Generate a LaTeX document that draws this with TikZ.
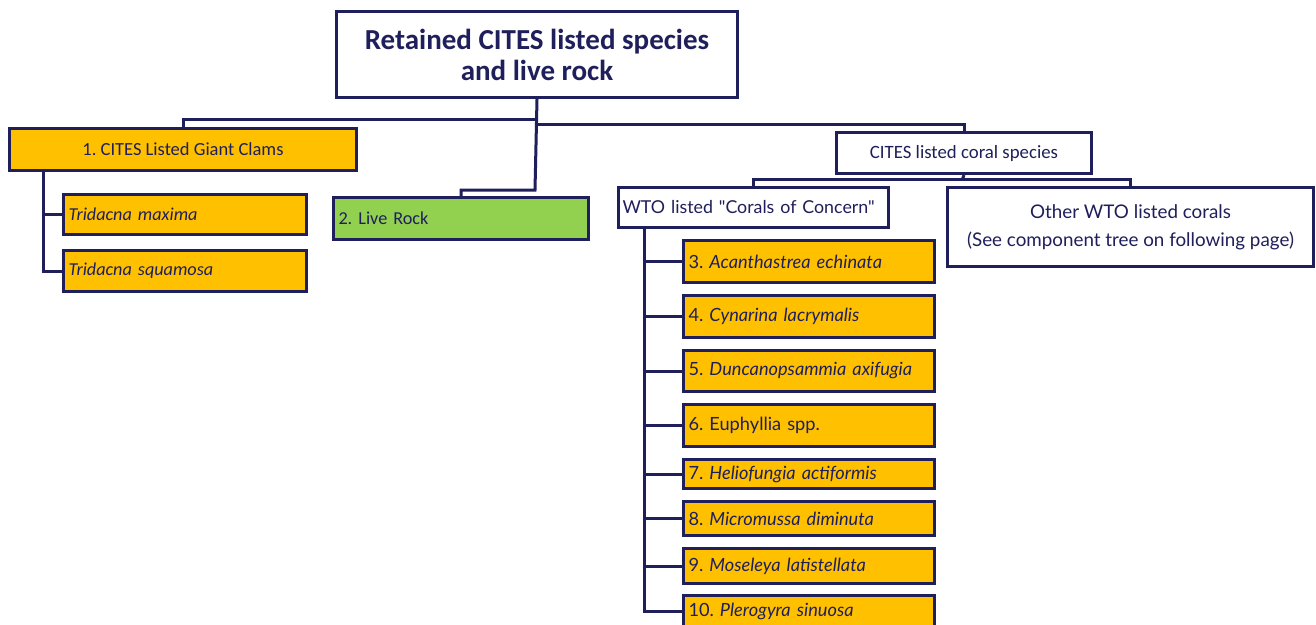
\documentclass[tikz,border=0pt]{standalone}
\usepackage{fontspec}
\setmainfont{Carlito}
\newfontfamily\lato{Lato}
\definecolor{navy}{HTML}{1F1F5C}
\definecolor{gold}{HTML}{FFC000}
\definecolor{lgreen}{HTML}{92D050}
\frenchspacing
\tikzset{
  bx/.style={draw=navy, line width=3pt, text=navy, inner xsep=5pt, inner ysep=0pt, anchor=north west},
  goldbx/.style={bx, fill=gold},
  greenbx/.style={bx, fill=lgreen},
  whitebx/.style={bx, fill=white},
  conn/.style={draw=navy, line width=3pt, line join=miter},
}
\begin{document}
\begin{tikzpicture}[x=1pt,y=-1pt]
\clip (0,0) rectangle (1316,624);
\fill[white] (0,0) rectangle (1316,624);
% root
\node[whitebx, minimum width=401pt, minimum height=86pt, align=center, font=\bfseries\fontsize{29}{31}\selectfont] (root) at (335,10) {Retained CITES listed species\\and live rock};
% level 1
\node[goldbx, minimum width=347pt, minimum height=42pt, align=center, font=\fontsize{18.5}{20}\selectfont] (clams) at (8,127) {1. CITES Listed Giant Clams};
\node[goldbx, minimum width=243pt, minimum height=40pt, text width=233pt, align=left, font=\itshape\fontsize{18.2}{20}\selectfont] (tmax) at (62,193) {Tridacna maxima};
\node[goldbx, minimum width=243pt, minimum height=41pt, text width=233pt, align=left, font=\itshape\fontsize{18.2}{20}\selectfont] (tsq) at (62,249) {Tridacna squamosa};
\node[greenbx, minimum width=255pt, minimum height=42pt, text width=245pt, align=left, font=\fontsize{18.2}{20}\selectfont] (live) at (332,196) {2. Live Rock};
\node[whitebx, minimum width=255pt, minimum height=41pt, align=center, font=\fontsize{18.8}{20}\selectfont] (coral) at (835,131) {CITES listed coral species};
\node[whitebx, minimum width=270pt, minimum height=40pt, inner xsep=4pt, text width=262pt, align=left, font=\lato\fontsize{17.8}{20}\selectfont] (wto) at (617,186) {\mbox{WTO listed "Corals of Concern"}};
\node[whitebx, minimum width=366pt, minimum height=79pt, align=center, font=\lato\fontsize{18.8}{28}\selectfont] (other) at (946,186) {Other WTO listed corals\\(See component tree on following page)};
% coral list
\tikzset{cl/.style={goldbx, minimum width=251pt, text width=241pt, align=left, font=\lato\fontsize{18.2}{20}\selectfont}}
\node[cl, minimum height=42pt] (c3) at (682,239) {3. \textit{Acanthastrea echinata}};
\node[cl, minimum height=42pt] (c4) at (682,294) {4. \textit{Cynarina lacrymalis}};
\node[cl, minimum height=41pt] (c5) at (682,349) {5. \textit{Duncanopsammia axifugia}};
\node[cl, minimum height=42pt] (c6) at (682,403) {6. Euphyllia spp.};
\node[cl, minimum height=29pt] (c7) at (682,458) {7. \textit{Heliofungia actiformis}};
\node[cl, minimum height=34pt] (c8) at (682,500) {8. \textit{Micromussa diminuta}};
\node[cl, minimum height=35pt] (c9) at (682,547) {9. \textit{Moseleya latistellata}};
\node[cl, minimum height=32pt] (c10) at (682,594) {10. \textit{Plerogyra sinuosa}};
% connectors
\coordinate (j1) at (535,119);
\coordinate (j2) at (535,124);
\coordinate (j3) at (535,190);
\draw[conn] (root.south) -- (j3) -| (live.north);
\draw[conn] (j1) -| (clams.north);
\draw[conn] (j2) -| (coral.north);
\coordinate (cl0) at (43,169);
\draw[conn] (cl0) |- (tmax.west);
\draw[conn] (cl0) |- (tsq.west);
\coordinate (cj) at (962.5,179);
\draw[conn] (coral.south) -- (cj);
\draw[conn] (cj) -| (wto.north);
\draw[conn] (cj) -| (other.north);
\coordinate (w0) at (644,226);
\foreach \n in {c3,c4,c5,c6,c7,c8,c9,c10} {\draw[conn] (w0) |- (\n.west);}
\end{tikzpicture}
\end{document}
